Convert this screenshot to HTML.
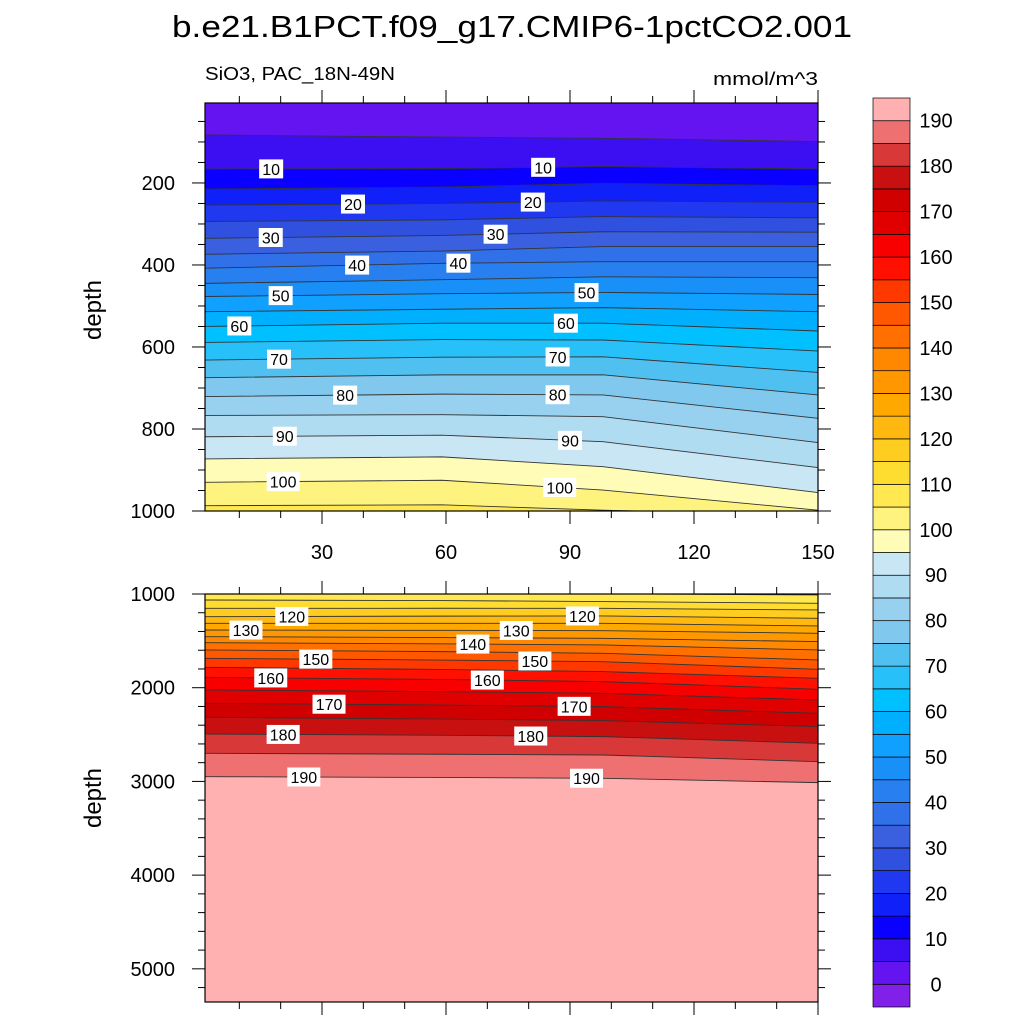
<!DOCTYPE html>
<html><head><meta charset="utf-8"><style>
html,body{margin:0;padding:0;background:#fff;width:1024px;height:1024px;overflow:hidden;position:relative;}
svg{display:block;position:absolute;left:0;top:0;font-family:"Liberation Sans",sans-serif;}
script{display:none;}
</style></head><body>
<svg id="chart" width="1024" height="1024" viewBox="0 0 1024 1024" overflow="hidden" xmlns="http://www.w3.org/2000/svg">
<text x="512" y="37" font-size="31" text-anchor="middle" textLength="680" lengthAdjust="spacingAndGlyphs">b.e21.B1PCT.f09_g17.CMIP6-1pctCO2.001</text>
<text x="205" y="80" font-size="18" textLength="190" lengthAdjust="spacingAndGlyphs">SiO3, PAC_18N-49N</text>
<text x="818" y="85" font-size="18" text-anchor="end" textLength="105" lengthAdjust="spacingAndGlyphs">mmol/m^3</text>
<text transform="translate(101,310) rotate(-90)" font-size="24" text-anchor="middle">depth</text>
<text transform="translate(101,798) rotate(-90)" font-size="24" text-anchor="middle">depth</text>
<defs>
<clipPath id="clipTop"><rect x="205" y="103" width="613" height="408"/></clipPath>
<clipPath id="clipBot"><rect x="205" y="594" width="613" height="408"/></clipPath>
</defs>
<g id="topPanel"></g>
<g id="botPanel"></g>
<g id="colorbar"></g>
</svg>
<script>
// ---- data ----
const years = [1, 59, 98, 150];
const levels = [5,10,15,20,25,30,35,40,45,50,55,60,65,70,75,80,85,90,95,100,105,110,115,120,125,130,135,140,145,150,155,160,165,170,175,180,185,190];
// isoline depth (m) per level, one array per year column
const depthYr1   = [83,166,215,254,294,335,374,408,445,477,514,550,589,632,675,721,767,819,873,930,987,1064,1153,1242,1313,1384,1455,1519,1597,1686,1782,1889,2024,2166,2316,2494,2700,2949];
const depthYr59  = [88,165,210,250,290,328,366,396,436,470,508,542,582,625,668,715,765,815,868,925,985,1070,1152,1236,1313,1388,1465,1532,1615,1705,1805,1912,2042,2185,2335,2508,2710,2958];
const depthYr98  = [91,160,201,244,282,319,355,392,429,467,504,542,583,624,668,717,770,831,892,949,998,1081,1153,1234,1313,1391,1473,1544,1633,1722,1828,1935,2060,2202,2351,2522,2718,2967];
const depthYr150 = [99,166,207,247,285,320,355,392,431,472,514,561,610,662,717,774,833,894,955,998,1010,1099,1170,1259,1341,1419,1508,1597,1704,1804,1900,2017,2131,2273,2415,2593,2789,3013];
const depthCols = [depthYr1, depthYr59, depthYr98, depthYr150];
// colorbar: 40 boxes, <0, 0-5, ..., 185-190, >190
const cbColors = ["#8020E8","#6414F0","#3C0FF2","#0A00FF","#1020F8","#2038F0","#3050E0","#3A60E0","#3070E8","#2880F0","#1890F8","#10A0FF","#00B0FF","#00C0FF","#28C0F8","#50C0F0","#80C8EE","#98D0F0","#B0DCF2","#C8E6F4","#FFFCB8","#FFF380","#FFE850","#FFDC30","#FFCC20","#FFB810","#FFA800","#FF9800","#FF8800","#FF7000","#FF5800","#FF3800","#FF1000","#F80000","#E00000","#D00000","#C81010","#D83838","#EE7070","#FFB0B0"];
const cbLabels = [0,10,20,30,40,50,60,70,80,90,100,110,120,130,140,150,160,170,180,190];
const xTicks = [30,60,90,120,150];
const yTicksTop = [200,400,600,800,1000];
const yTicksBot = [1000,2000,3000,4000,5000];
// contour labels: [year, level]
const labelsTop = [[17.7,10],[83.5,10],[37.5,20],[81,20],[17.6,30],[72,30],[38.5,40],[63,40],[20,50],[94,50],[10,60],[89,60],[19.6,70],[87,70],[35.6,80],[87,80],[21,90],[90,90],[20.6,100],[87.5,100]];
const labelsBot = [[22.7,120],[93,120],[11.6,130],[77,130],[66.5,140],[28.5,150],[81.5,150],[17.6,160],[70,160],[31.7,170],[91,170],[20.6,180],[80.5,180],[25.6,190],[94,190]];

// ---- scales ----
const NS = "http://www.w3.org/2000/svg";
const xS = yr => 322 + (yr - 30) * (496 / 120);
const panels = {
  top: {g: document.getElementById('topPanel'), y0: 103, y1: 511, d0: 5, d1: 1000, clip: 'clipTop', ticks: yTicksTop, minor: 50, labels: labelsTop, name: 'upper'},
  bot: {g: document.getElementById('botPanel'), y0: 594, y1: 1002, d0: 1000, d1: 5354, clip: 'clipBot', ticks: yTicksBot, minor: 200, labels: labelsBot, name: 'deep'}
};
function mk(tag, attrs, parent) {
  const e = document.createElementNS(NS, tag);
  for (const k in attrs) e.setAttribute(k, attrs[k]);
  parent.appendChild(e);
  return e;
}
function isoDepthAt(li, yr) {
  for (let c = 0; c < years.length - 1; c++) {
    if (yr <= years[c + 1] || c === years.length - 2) {
      const t = (yr - years[c]) / (years[c + 1] - years[c]);
      return depthCols[c][li] + t * (depthCols[c + 1][li] - depthCols[c][li]);
    }
  }
}

for (const key in panels) {
  const p = panels[key];
  const span = p.d1 - p.d0;
  const yS = d => {
    const dc = Math.max(p.d0 - span * 0.02, Math.min(p.d1 + span * 0.02, d));
    return p.y0 + (dc - p.d0) * (p.y1 - p.y0) / span;
  };
  const fillG = mk('g', {'clip-path': 'url(#' + p.clip + ')'}, p.g);
  const bg = mk('rect', {x: 205, y: p.y0, width: 613, height: 408, fill: cbColors[39]}, fillG);
  
  
  const xl = xS(years[0]) - 5, xr = xS(years[years.length - 1]) + 5;
  for (let li = levels.length - 1; li >= 0; li--) {
    let pts = [];
    years.forEach((yr, c) => pts.push(xS(yr) + ',' + yS(depthCols[c][li])));
    const poly = 'M' + xl + ',' + (p.y0 - 5) + ' L' + xl + ',' + yS(depthCols[0][li]) + ' L' + pts.join(' L') + ' L' + xr + ',' + yS(depthCols[years.length - 1][li]) + ' L' + xr + ',' + (p.y0 - 5) + 'Z';
    const band = mk('path', {d: poly, fill: cbColors[li + 1]}, fillG);
    
    
  }
  for (let li = 0; li < levels.length; li++) {
    let pts = [];
    years.forEach((yr, c) => pts.push(xS(yr) + ',' + yS(depthCols[c][li])));
    const ln = mk('polyline', {points: pts.join(' '), fill: 'none', stroke: '#333', 'stroke-width': 0.9}, fillG);
    
    
  }
  // contour labels
  p.labels.forEach(([yr, lv]) => {
    const li = levels.indexOf(lv);
    const cx = xS(yr), cy = yS(isoDepthAt(li, yr));
    const w = String(lv).length * 9 + 6;
    const r = mk('rect', {x: cx - w / 2, y: cy - 9.5, width: w, height: 19, fill: '#fff'}, fillG);
    
    
    const t = mk('text', {x: cx, y: cy + 6, 'font-size': 16, 'text-anchor': 'middle'}, fillG);
    
    
    t.textContent = lv;
  });
  const frame = mk('rect', {x: 205, y: p.y0, width: 613, height: 408, fill: 'none', stroke: '#000', 'stroke-width': 1.2}, p.g);
  
  
  // y ticks
  const tg = mk('g', {stroke: '#000', 'stroke-width': 1}, p.g);
  for (let d = Math.ceil(p.d0 / p.minor) * p.minor; d <= p.d1; d += p.minor) {
    const major = p.ticks.includes(d);
    const L = major ? 13 : 7, y = yS(d);
    mk('line', {x1: 205 - L, y1: y, x2: 205, y2: y}, tg);
    mk('line', {x1: 818, y1: y, x2: 818 + L, y2: y}, tg);
  }
  p.ticks.forEach(d => {
    const t = mk('text', {x: 175, y: yS(d) + 7, 'font-size': 20, 'text-anchor': 'end'}, p.g);
    
    
    t.textContent = d;
  });
  // x ticks
  for (let yr = 10; yr <= 150; yr += 10) {
    const major = xTicks.includes(yr);
    const L = major ? 13 : 7, x = xS(yr);
    mk('line', {x1: x, y1: p.y0 - L, x2: x, y2: p.y0}, tg);
    mk('line', {x1: x, y1: p.y1, x2: x, y2: p.y1 + L}, tg);
  }
  if (key === 'top') {
    xTicks.forEach(yr => {
      const t = mk('text', {x: xS(yr), y: 559, 'font-size': 20, 'text-anchor': 'middle'}, p.g);
      
      
      t.textContent = yr;
    });
  }
}

// colorbar
const cb = document.getElementById('colorbar');
const cbTop = 98, cbBot = 1007, cbX = 873, cbW = 37;
const bh = (cbBot - cbTop) / cbColors.length;
cbColors.forEach((c, i) => {
  const r = mk('rect', {x: cbX, y: cbBot - (i + 1) * bh, width: cbW, height: bh, fill: c, stroke: '#000', 'stroke-width': 0.7}, cb);
  
  
});
cbLabels.forEach(v => {
  const i = v / 5 + 1;
  const t = mk('text', {x: 936, y: cbBot - i * bh + 7, 'font-size': 20, 'text-anchor': 'middle'}, cb);
  
  
  t.textContent = v;
});
</script>
</body></html>
